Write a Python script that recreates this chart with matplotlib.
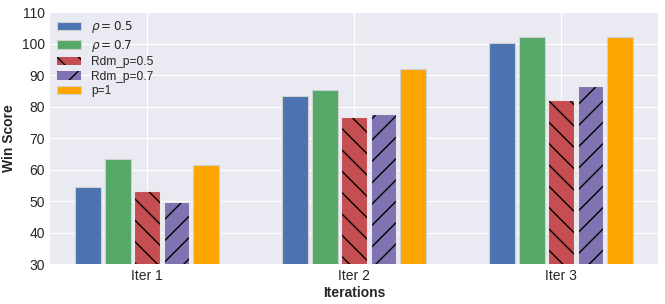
import matplotlib
matplotlib.use("Agg")
import matplotlib.pyplot as plt
import numpy as np

plt.style.use("seaborn-v0_8-darkgrid")
plt.rcParams["font.family"] = ["Liberation Sans", "DejaVu Sans"]

# render at 128 dpi so the hatch spacing matches, and shrink point sizes to fit
DPI = 128
s = 100 / DPI
for key in ["grid.linewidth", "xtick.major.pad", "ytick.major.pad",
            "axes.labelpad", "axes.linewidth"]:
    plt.rcParams[key] = plt.rcParams[key] * s
plt.rcParams["hatch.linewidth"] = 1.0 * s

iterations = ["Iter 1", "Iter 2", "Iter 3"]
labels = [r"$\rho = 0.5$", r"$\rho = 0.7$", "Rdm_p=0.5", "Rdm_p=0.7", "p=1"]
rho_05 = [54.5, 83.5, 100.3]
rho_07 = [63.5, 85.2, 102.2]
rdm_05 = [53.3, 76.9, 82.3]
rdm_07 = [49.9, 77.8, 86.7]
p_1 = [61.5, 91.9, 102.2]

series = [rho_05, rho_07, rdm_05, rdm_07, p_1]
colors = ["#4C72B0", "#55A868", "#C44E52", "#8172B2", "orange"]
hatches = [None, None, "\\\\", "//", None]

fig, ax = plt.subplots(figsize=(665 / DPI, 304 / DPI), dpi=DPI)
fig.subplots_adjust(left=0.075, right=0.99, top=0.96, bottom=0.13)

x = np.arange(len(iterations))
step = 0.142
width = 0.125
for i, (vals, c, h, lab) in enumerate(zip(series, colors, hatches, labels)):
    pos = x + (i - 2) * step
    if h is None:
        ax.bar(pos, vals, width, color=c, label=lab,
               edgecolor="#d0d0d0", linewidth=0.8 * s)
    else:
        # black hatch, then a light outline on top
        ax.bar(pos, vals, width, facecolor=c, hatch=h, label=lab,
               edgecolor="black", linewidth=0)
        ax.bar(pos, vals, width, fill=False,
               edgecolor="#e8e8e8", linewidth=0.8 * s)

ax.set_ylim(30, 110)
ax.set_xlim(-0.47, 2.47)
ax.set_yticks(np.arange(30, 111, 10))
ax.set_xticks(x)
ax.set_xticklabels(iterations)
ax.tick_params(labelsize=10 * s)
ax.set_xlabel("Iterations", fontweight="bold", fontsize=10 * s, labelpad=2 * s)
ax.set_ylabel("Win Score", fontweight="bold", fontsize=10 * s)
ax.legend(loc="upper left", fontsize=8.7 * s, frameon=False,
          labelspacing=0.2, borderaxespad=0.2, handlelength=2.0)

fig.savefig("out.png", dpi=DPI)
